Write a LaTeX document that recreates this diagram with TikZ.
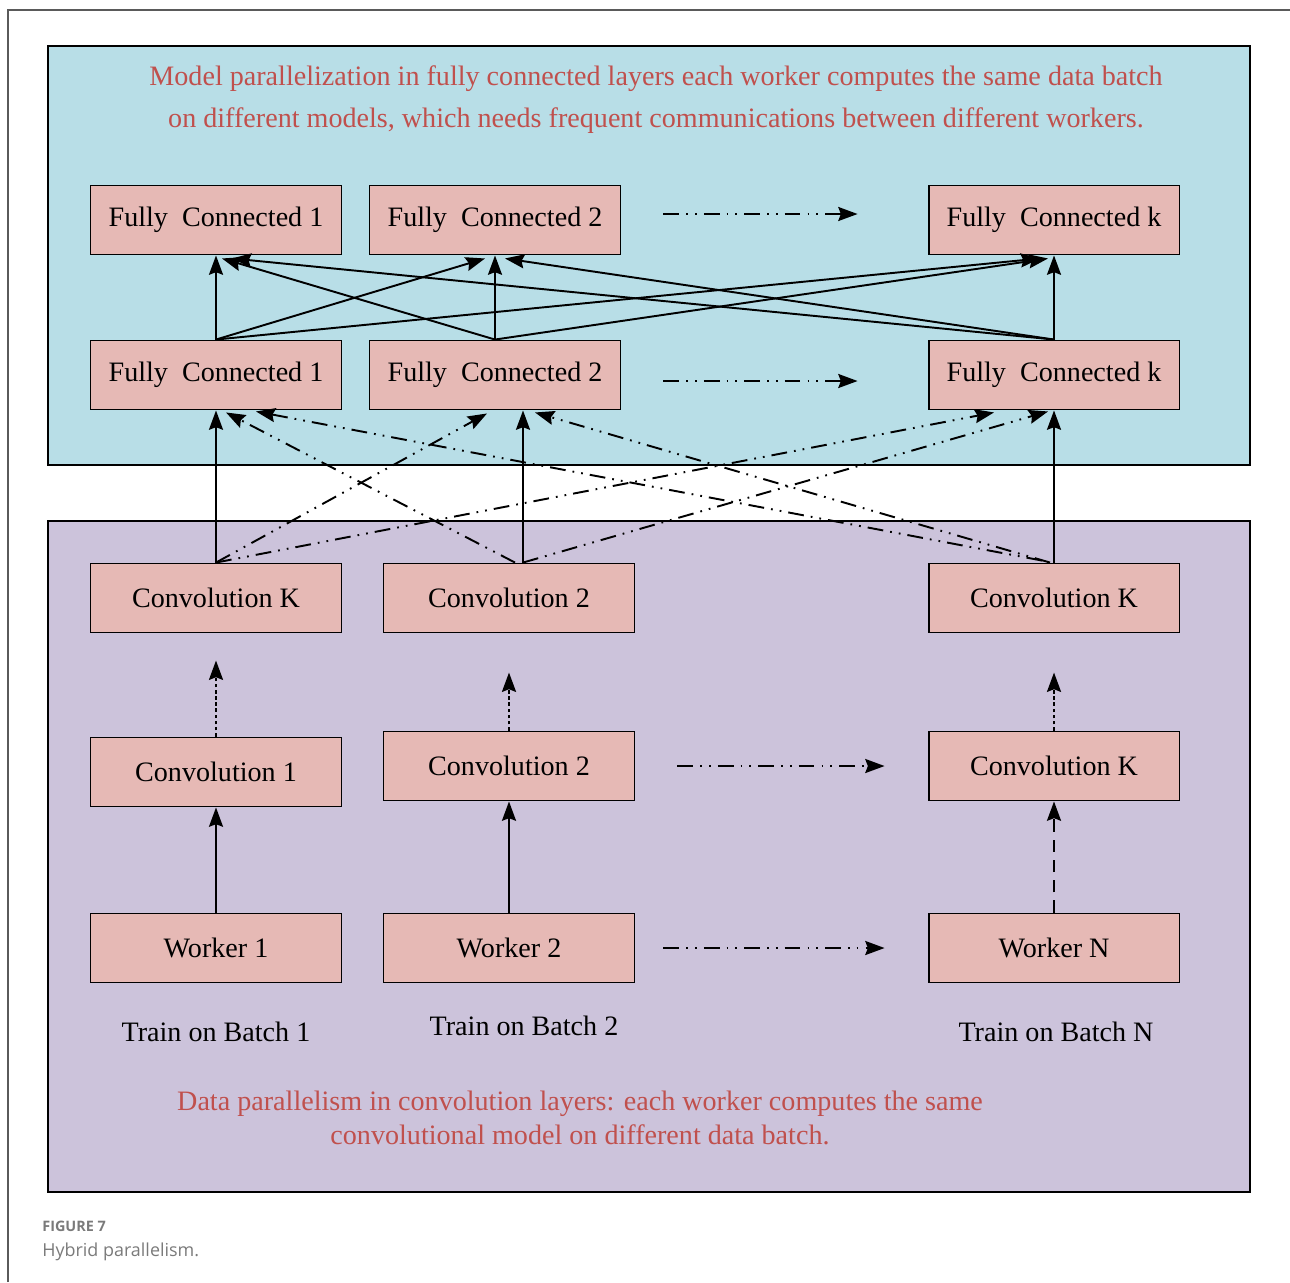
\documentclass[tikz,border=0pt]{standalone}
\usepackage{fontspec}
\setmainfont{Liberation Serif}
\newfontfamily\captionfont{Open Sans}
\usetikzlibrary{arrows.meta,positioning,calc}
\definecolor{PanelTop}{HTML}{B8DEE7}
\definecolor{PanelBottom}{HTML}{CCC3DB}
\definecolor{BoxFill}{HTML}{E6B9B5}
\definecolor{NoteRed}{HTML}{C0504D}
\definecolor{FrameGray}{HTML}{5A5A5A}
\definecolor{CaptionGray}{HTML}{7A7A7A}
\tikzset{
    % Sharp-cornered layer boxes
    layer/.style={
        rectangle,
        draw=black,
        line width=1.1pt,
        fill=BoxFill,
        minimum width=5.02cm,
        minimum height=1.38cm,
        inner sep=0pt,
        font=\fontsize{16}{19}\selectfont
    },
    panel/.style={
        draw=black,
        line width=1.3pt
    },
    note/.style={
        text=NoteRed,
        align=center,
        font=\fontsize{16}{24}\selectfont
    },
    batch label/.style={
        font=\fontsize{16}{19}\selectfont
    },
    arrow/.style={
        -{Stealth[length=11pt,width=8pt,inset=1.5pt]},
        line width=1.1pt,
        color=black
    },
    arrow dashdot/.style={
        arrow,
        dash pattern=on 9pt off 4pt on 1pt off 4pt on 1pt off 4pt
    },
    arrow dotted/.style={
        arrow,
        dash pattern=on 2pt off 1.5pt
    },
    arrow dashed/.style={
        arrow,
        dash pattern=on 7pt off 4.5pt
    }
}
\begin{document}
\begin{tikzpicture}[x=0.02cm, y=-0.02cm]
    \useasboundingbox (0,0) rectangle (1290,1282);

    % Frame and caption
    \draw[FrameGray, line width=0.9pt] (8,1282) -- (8,10) -- (1290,10);
    \node[anchor=base west, inner sep=0pt, text=CaptionGray, font=\captionfont\bfseries\fontsize{8.2}{10}\selectfont] (figno) at (42,1231) {FIGURE 7};
    \node[anchor=base west, inner sep=0pt, text=CaptionGray, font=\captionfont\fontsize{10.2}{12}\selectfont] (caption) at (42,1256) {Hybrid parallelism.};

    % Panels
    \draw[panel, fill=PanelTop] (48,46) rectangle (1250,465);
    \draw[panel, fill=PanelBottom] (48,521) rectangle (1250,1192);

    % Notes
    \node[note] (modelnote) at (656,100)
        {Model parallelization in fully connected layers each worker computes the same data batch\\
         on different models, which needs frequent communications between different workers.};
    \node[note, font=\fontsize{16}{19.5}\selectfont] (datanote) at (580,1118)
        {Data parallelism in convolution layers: each worker computes the same\\
         convolutional model on different data batch.};

    % Fully connected layers
    \node[layer] (fc1t) at (216,220) {Fully~ Connected 1};
    \node[layer] (fc2t) at (495,220) {Fully~ Connected 2};
    \node[layer] (fckt) at (1054,220) {Fully~ Connected k};
    \node[layer] (fc1b) at (216,375) {Fully~ Connected 1};
    \node[layer] (fc2b) at (495,375) {Fully~ Connected 2};
    \node[layer] (fckb) at (1054,375) {Fully~ Connected k};

    % Convolution layers
    \node[layer] (cka) at (216,598) {Convolution K};
    \node[layer] (c2a) at (509,598) {Convolution 2};
    \node[layer] (ckb) at (1054,598) {Convolution K};
    \node[layer] (c1) at (216,772) {Convolution 1};
    \node[layer] (c2) at (509,766) {Convolution 2};
    \node[layer] (ck) at (1054,766) {Convolution K};

    % Workers
    \node[layer] (w1) at (216,948) {Worker 1};
    \node[layer] (w2) at (509,948) {Worker 2};
    \node[layer] (wn) at (1054,948) {Worker N};
    \node[batch label] (b1) at (216,1032) {Train on Batch 1};
    \node[batch label] (b2) at (524,1026) {Train on Batch 2};
    \node[batch label] (bn) at (1056,1032) {Train on Batch N};

    % Arrows between fully connected layers
    \draw[arrow] (fc1b) -- (fc1t);
    \draw[arrow] (fc1b.north) -- ($(fc2t.south)+(-10,3)$);
    \draw[arrow] (fc1b.north) -- ($(fckt.south)+(-14,3)$);
    \draw[arrow] (fc2b.north) -- ($(fc1t.south)+(6,3)$);
    \draw[arrow] (fc2b) -- (fc2t);
    \draw[arrow] (fc2b.north) -- ($(fckt.south)+(-6,3)$);
    \draw[arrow] (fckb.north) -- ($(fc1t.south)+(16,3)$);
    \draw[arrow] (fckb.north) -- ($(fc2t.south)+(10,3)$);
    \draw[arrow] (fckb) -- (fckt);
    \draw[arrow dashdot] ($(fc2t.east)+(42,-6)$) -- ($(fckt.west)+(-70,-6)$);
    \draw[arrow dashdot] ($(fc2b.east)+(42,6)$) -- ($(fckb.west)+(-70,6)$);

    % Arrows from convolution to fully connected layers
    \draw[arrow] (cka.north) -- (fc1b.south);
    \draw[arrow] ($(c2a.north)+(14,0)$) -- ($(fc2b.south)+(28,0)$);
    \draw[arrow] (ckb.north) -- (fckb.south);
    \draw[arrow dashdot] (cka.north) -- ($(fc2b.south)+(-8,3)$);
    \draw[arrow dashdot] (cka.north) -- ($(fckb.south)+(-60,2)$);
    \draw[arrow dashdot] ($(c2a.north)+(6,0)$) -- ($(fc1b.south)+(10,2)$);
    \draw[arrow dashdot] ($(c2a.north)+(14,0)$) -- ($(fckb.south)+(-6,1)$);
    \draw[arrow dashdot] ($(ckb.north)+(-12,-2)$) -- ($(fc1b.south)+(40,1)$);
    \draw[arrow dashdot] ($(ckb.north)+(-4,0)$) -- ($(fc2b.south)+(40,2)$);

    % Arrows inside the convolution panel
    \draw[arrow dotted] (c1.north) -- ($(c1.north)+(0,-76)$) coordinate (c1top);
    \draw[arrow dotted] (c2.north) -- ($(c2.north)+(0,-58)$) coordinate (c2top);
    \draw[arrow dotted] (ck.north) -- ($(ck.north)+(0,-58)$) coordinate (cktop);
    \draw[arrow dashdot] ($(c2.east)+(42,0)$) -- ($(ck.west)+(-43,0)$);
    \draw[arrow] (w1) -- (c1);
    \draw[arrow] (w2) -- (c2);
    \draw[arrow dashed] (wn) -- (ck);
    \draw[arrow dashdot] ($(w2.east)+(28,0)$) -- ($(wn.west)+(-43,0)$);
\end{tikzpicture}
\end{document}
